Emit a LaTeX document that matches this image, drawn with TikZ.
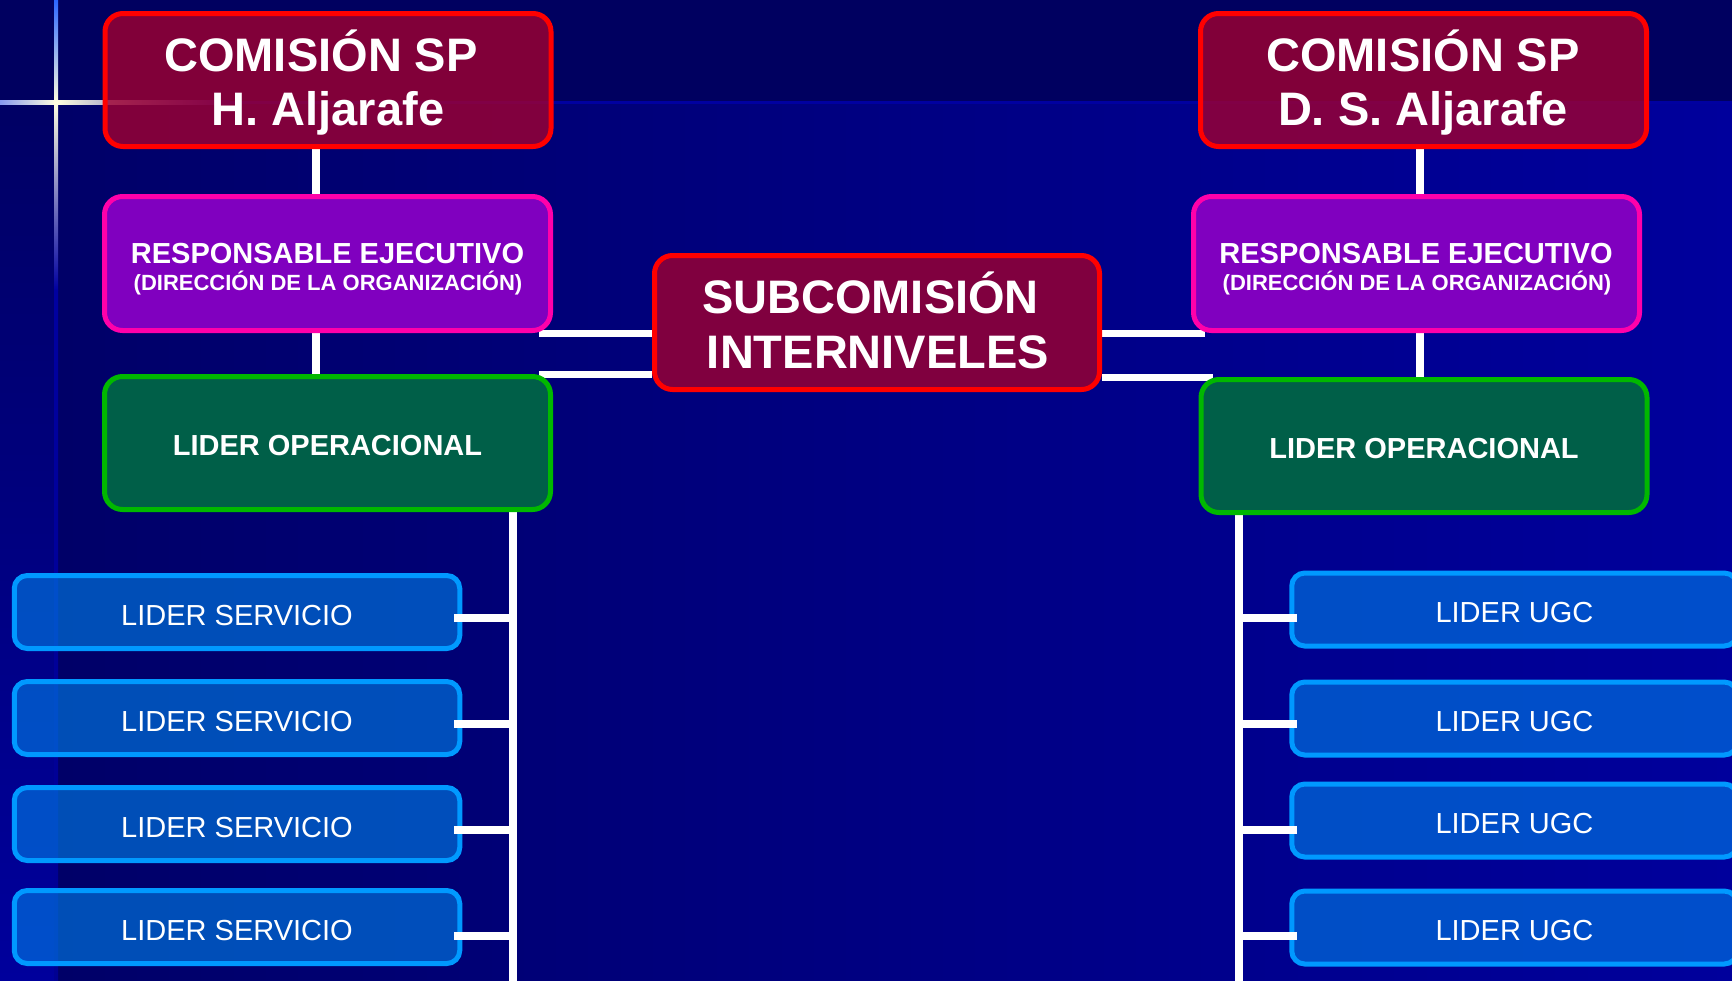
\documentclass[tikz,border=0pt]{standalone}
\usepackage{fontspec}
\setmainfont{Liberation Sans}
\usetikzlibrary{calc}
\definecolor{bandc}{HTML}{000060}
\definecolor{mainL}{HTML}{000068}
\definecolor{mainR}{HTML}{00009C}
\definecolor{stripT}{HTML}{000064}
\definecolor{stripB}{HTML}{00009C}
\definecolor{flare}{HTML}{FFFFE0}
\definecolor{flareblue}{HTML}{2C66FF}
\definecolor{flarepale}{HTML}{8899EE}
\definecolor{faint}{HTML}{0000A0}
\definecolor{redb}{HTML}{FF0000}
\definecolor{maroonf}{HTML}{A20030}
\definecolor{subfill}{HTML}{80003F}
\definecolor{pinkb}{HTML}{FF00AA}
\definecolor{purplef}{HTML}{8000BF}
\definecolor{greenb}{HTML}{00B800}
\definecolor{greenf}{HTML}{005F48}
\definecolor{blueb}{HTML}{0099FF}
\definecolor{bluef}{HTML}{0082EB}
\pgfdeclarelayer{bg}
\pgfdeclarelayer{links}
\pgfdeclarelayer{front}
\pgfsetlayers{bg,links,main,front}
\begin{document}
\begin{tikzpicture}[x=1pt,y=-1pt,
  basebox/.style={draw, line width=5pt, rounded corners=18pt, inner sep=0pt,
    minimum width=446pt, minimum height=133pt, text=white, text opacity=1},
  combox/.style={basebox, draw=redb, fill=maroonf, fill opacity=0.8},
  subbox/.style={basebox, draw=redb, fill=subfill, minimum width=445pt, minimum height=134pt},
  respbox/.style={basebox, draw=pinkb, fill=purplef, minimum height=134pt},
  opbox/.style={basebox, draw=greenb, fill=greenf,
    font=\fontsize{29}{34}\selectfont\bfseries, text height=24pt, text depth=0pt},
  leafbox/.style={basebox, draw=blueb, fill=bluef, fill opacity=0.6, text opacity=1,
    rounded corners=13pt, minimum width=445.5pt, minimum height=73pt,
    font=\fontsize{29}{34}\selectfont, text height=26pt, text depth=0pt},
  lbltext/.style={text=white, anchor=base, inner sep=0pt},
  bigtxt/.style={font=\fontsize{47}{54}\selectfont\bfseries},
  midtxt/.style={font=\fontsize{29}{34}\selectfont\bfseries},
  smltxt/.style={font=\fontsize{22}{26}\selectfont\bfseries},
  vlink/.style={draw=white, line width=8pt},
  hlink/.style={draw=white, line width=7pt},
]
\useasboundingbox (0,0) rectangle (1732,980);

% ---------- boxes ----------
\node[combox] (comL) at (328,80) {};
\node[combox] (comR) at (1423.5,80) {};
\node[respbox] (respL) at (327.5,263.5) {};
\node[respbox] (respR) at (1416.5,263.5) {};
\node[opbox] (opL) at (327.5,443) {LIDER OPERACIONAL};
\node[opbox] (opR) at (1424,446) {LIDER OPERACIONAL};
\node[subbox] (sub) at (877,322.5) {};

\node[leafbox] (ls1) at (237,612) {LIDER SERVICIO};
\node[leafbox] (ls2) at (237,718) {LIDER SERVICIO};
\node[leafbox] (ls3) at (237,824) {LIDER SERVICIO};
\node[leafbox] (ls4) at (237,927) {LIDER SERVICIO};

\node[leafbox] (ugc1) at (1514.5,609.5) {LIDER UGC};
\node[leafbox] (ugc2) at (1514.5,718.5) {LIDER UGC};
\node[leafbox] (ugc3) at (1514.5,820.5) {LIDER UGC};
\node[leafbox] (ugc4) at (1514.5,927.5) {LIDER UGC};

% ---------- labels ----------
\node[lbltext,bigtxt] (comLa) at (321,71) {COMISIÓN SP};
\node[lbltext,bigtxt] (comLb) at (328,125) {H. Aljarafe};
\node[lbltext,bigtxt] (comRa) at (1423,71) {COMISIÓN SP};
\node[lbltext,bigtxt] (comRb) at (1423,125) {D. S. Aljarafe};
\node[lbltext,midtxt] (respLa) at (327.5,263) {RESPONSABLE EJECUTIVO};
\node[lbltext,smltxt] (respLb) at (328,290) {(DIRECCIÓN DE LA ORGANIZACIÓN)};
\node[lbltext,midtxt] (respRa) at (1416,263) {RESPONSABLE EJECUTIVO};
\node[lbltext,smltxt] (respRb) at (1417,290) {(DIRECCIÓN DE LA ORGANIZACIÓN)};
\node[lbltext,bigtxt] (suba) at (870.5,313) {SUBCOMISIÓN};
\node[lbltext,bigtxt] (subb) at (878,368) {INTERNIVELES};

% ---------- helper coordinates ----------
\coordinate (xl) at (316,0);
\coordinate (xr) at (1420,0);
\coordinate (tl) at (513,0);
\coordinate (tr) at (1239,0);
\coordinate (bot) at (0,984);
\coordinate (r1) at (0,618);
\coordinate (r2) at (0,724);
\coordinate (r3) at (0,829.5);
\coordinate (r4) at (0,936);

% ---------- background ----------
\begin{pgfonlayer}{bg}
  \fill[bandc] (0,0) rectangle (1732,102);
  \shade[left color=mainL, right color=mainR] (56,102) rectangle (1732,980);
  \shade[top color=stripT, bottom color=stripB] (0,102) rectangle (56,980);
  \draw[line width=3pt, faint] (56,102) -- (1732,102);
  \shade[top color=faint, bottom color=stripB!80!mainL] (54,290) rectangle (58,980);
  \shade[left color=flarepale, right color=flare] (0,100) rectangle (56,104);
  \shade[left color=flare, middle color=flarepale, right color=faint] (56,100) rectangle (230,104);
  \shade[top color=flareblue, middle color=flareblue!80!white, bottom color=flare] (54,0) rectangle (58,102);
  \shade[top color=flare, middle color=flareblue, bottom color=faint] (54,102) rectangle (58,290);
\end{pgfonlayer}

% ---------- connectors behind boxes ----------
\begin{pgfonlayer}{links}
  \draw[vlink] (comL.south -| xl) -- (respL.north -| xl);
  \draw[vlink] (respL.south -| xl) -- (opL.north -| xl);
  \draw[vlink] (comR.south -| xr) -- (respR.north -| xr);
  \draw[vlink] (respR.south -| xr) -- (opR.north -| xr);
  \draw[hlink] ($(respL.south east)+(-14,0)$) -- (respL.south east -| sub.west);
  \draw[hlink] ($(opL.north east)+(-14,0)$) -- (opL.north east -| sub.west);
  \draw[hlink] (sub.east |- respR.south west) -- ($(respR.south west)+(14,0)$);
  \draw[hlink] (sub.east |- opR.north west) -- ($(opR.north west)+(14,0)$);
  \draw[vlink] (opL.south -| tl) -- (tl |- bot);
  \draw[vlink] (opR.south -| tr) -- (tr |- bot);
\end{pgfonlayer}

% ---------- branches over boxes ----------
\begin{pgfonlayer}{front}
  \draw[vlink] ($(ls1.east |- r1)+(-8,0)$) -- (tl |- r1);
  \draw[vlink] ($(ls2.east |- r2)+(-8,0)$) -- (tl |- r2);
  \draw[vlink] ($(ls3.east |- r3)+(-8,0)$) -- (tl |- r3);
  \draw[vlink] ($(ls4.east |- r4)+(-8,0)$) -- (tl |- r4);
  \draw[vlink] (tr |- r1) -- ($(ugc1.west |- r1)+(8,0)$);
  \draw[vlink] (tr |- r2) -- ($(ugc2.west |- r2)+(8,0)$);
  \draw[vlink] (tr |- r3) -- ($(ugc3.west |- r3)+(8,0)$);
  \draw[vlink] (tr |- r4) -- ($(ugc4.west |- r4)+(8,0)$);
\end{pgfonlayer}
\end{tikzpicture}
\end{document}
